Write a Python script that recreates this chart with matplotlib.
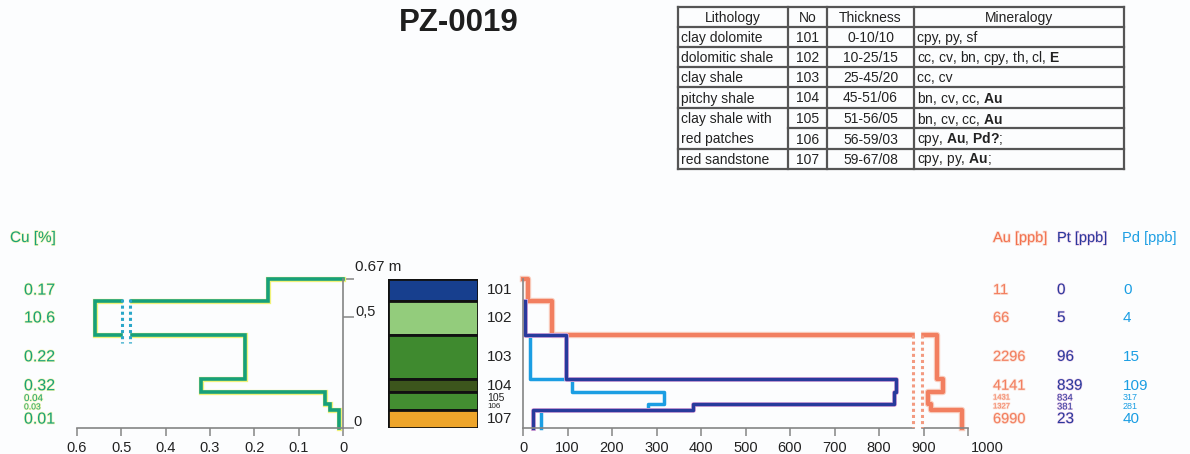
import matplotlib
matplotlib.use('Agg')
import matplotlib.pyplot as plt
import matplotlib.patheffects as pe
from matplotlib.transforms import blended_transform_factory
from matplotlib.lines import Line2D

plt.rcParams['font.family'] = ['Liberation Sans', 'DejaVu Sans']
plt.rcParams['mathtext.fontset'] = 'custom'
plt.rcParams['mathtext.rm'] = 'Liberation Sans'
plt.rcParams['mathtext.bf'] = 'Liberation Sans:bold'

# --- data -------------------------------------------------------------
# layers, depth below top of profile in cm (profile is 0.67 m thick)
layer_no = ['101', '102', '103', '104', '105', '106', '107']
layer_top = [0, 10, 25, 45, 51, 56, 59]
layer_base = [10, 25, 45, 51, 56, 59, 67]

# lithology column (105 + 106 drawn as one box)
col_top = [0, 10, 25, 45, 51, 59]
col_base = [10, 25, 45, 51, 59, 67]
col_colors = ['#173f8e', '#93cc7c', '#3f8a2f', '#3c551c', '#438e31', '#eea52b']

# Cu [%]: printed values and plotted values (10.6 is on a broken axis)
cu_labels = ['0.17', '10.6', '0.22', '0.32', '0.04', '0.03', '0.01']
cu_plot = [0.17, 0.56, 0.22, 0.32, 0.04, 0.03, 0.01]

# Au, Pt, Pd [ppb]; Au > 850 plotted on a compressed (broken) scale
au_labels = ['11', '66', '2296', '4141', '1431', '1327', '6990']
au_plot = [11, 66, 930, 944, 910, 917, 987]
pt_vals = [0, 5, 96, 839, 834, 381, 23]
pd_vals = [0, 4, 15, 109, 317, 281, 40]

# table
tab_header = ['Lithology', 'No', 'Thickness', 'Mineralogy']
tab_lith = ['clay dolomite', 'dolomitic shale', 'clay shale', 'pitchy shale',
            'clay shale with', 'red patches', 'red sandstone']
tab_thick = ['0-10/10', '10-25/15', '25-45/20', '45-51/06', '51-56/05', '56-59/03', '59-67/08']
tab_min = ['cpy, py, sf',
           r'cc, cv, bn, cpy, th, cl, $\mathbf{E}$',
           'cc, cv',
           r'bn, cv, cc, $\mathbf{Au}$',
           r'bn, cv, cc, $\mathbf{Au}$',
           r'cpy, $\mathbf{Au}$, $\mathbf{Pd?}$;',
           r'cpy, py, $\mathbf{Au}$;']

# --- colours ----------------------------------------------------------
bg = '#fcfdfe'
c_cu = '#17a07a'
c_au = '#f1714f'
c_pt = '#283a9c'
c_pd = '#1b9ee3'
c_axis = '#858585'


def step_xy(vals, tops, bases, start=None):
    xs, ys = [], []
    if start is not None:
        xs.append(start)
        ys.append(tops[0])
    for v, t, b in zip(vals, tops, bases):
        xs += [v, v]
        ys += [t, b]
    return xs, ys


W, H = 1190, 454
fig = plt.figure(figsize=(W / 100, H / 100), dpi=100, facecolor=bg)

# overlay in pixel units for text and table
ov = fig.add_axes([0, 0, 1, 1])
ov.set_xlim(0, W)
ov.set_ylim(H, 0)
ov.axis('off')

y0, y1 = 279, 428
bot = 1 - y1 / H
hgt = (y1 - y0) / H


def style_axis(ax):
    ax.set_facecolor('none')
    for s in ax.spines.values():
        s.set_color(c_axis)
        s.set_linewidth(1.2)
    ax.tick_params(colors=c_axis, labelcolor='#222222', labelsize=10.5,
                   length=6, width=1.1, pad=3)


# ---- Cu profile ------------------------------------------------------
ax_cu = fig.add_axes([77 / W, bot, (343 - 77) / W, hgt])
style_axis(ax_cu)
ax_cu.set_xlim(0.6, 0)
ax_cu.set_ylim(67, 0)
ax_cu.spines['left'].set_visible(False)
ax_cu.spines['top'].set_visible(False)
ax_cu.set_xticks([0.6, 0.5, 0.4, 0.3, 0.2, 0.1, 0])
ax_cu.set_xticklabels(['0.6', '0.5', '0.4', '0.3', '0.2', '0.1', '0'])
ax_cu.yaxis.tick_right()
ax_cu.set_yticks([0, 17, 67])
ax_cu.set_yticklabels([])
ax_cu.tick_params(axis='y', length=8)

xs, ys = step_xy(cu_plot, layer_top, layer_base, start=0)
ax_cu.plot(xs, ys, color=c_cu, lw=2.6, solid_joinstyle='miter', clip_on=False,
           path_effects=[pe.Stroke(linewidth=3.8, foreground='#f0f27a'), pe.Normal()])
# axis break on the 10.6 % step
ax_cu.fill_betweenx([8, 30], 0.483, 0.497, color=bg, zorder=3)
for xb in (0.499, 0.481):
    ax_cu.plot([xb, xb], [9, 29], ls=(0, (1, 1)), color='#2aa7c9', lw=2.2, zorder=4)

# ---- lithology column ------------------------------------------------
ax_li = fig.add_axes([388 / W, bot, 90 / W, hgt])
ax_li.set_xlim(0, 1)
ax_li.set_ylim(67, 0)
ax_li.axis('off')
ax_li.barh(col_top, 1, height=[b - t for t, b in zip(col_top, col_base)],
           align='edge', color=col_colors, edgecolor='#111111', linewidth=2)

# ---- Au / Pt / Pd profile -------------------------------------------
ax_pm = fig.add_axes([523 / W, bot, (968 - 523) / W, hgt])
style_axis(ax_pm)
ax_pm.set_xlim(0, 1000)
ax_pm.set_ylim(67, 0)
ax_pm.spines['right'].set_visible(False)
ax_pm.spines['top'].set_visible(False)
ax_pm.set_yticks([])
ax_pm.set_xticks(range(0, 1001, 100))
ax_pm.set_xticklabels([str(v) for v in range(0, 901, 100)] + [''])
ax_pm.annotate('1000', xy=(1000, 0), xycoords=('data', 'axes fraction'),
               xytext=(14, -9.5), textcoords='offset points', ha='center', va='top',
               fontsize=10.5, color='#222222')

xs, ys = step_xy(au_plot, layer_top, layer_base, start=0)
ax_pm.plot(xs, ys, color=c_au, lw=3, alpha=0.85, clip_on=False,
           path_effects=[pe.Stroke(linewidth=4.6, foreground='#f9cfc0'), pe.Normal()])
xs, ys = step_xy(pd_vals[1:], layer_top[1:], layer_base[1:])
ax_pm.plot(xs, ys, color=c_pd, lw=2.5, clip_on=False)
xs, ys = step_xy(pt_vals[1:], layer_top[1:], layer_base[1:])
ax_pm.plot(xs, ys, color=c_pt, lw=2.5, clip_on=False,
           path_effects=[pe.Stroke(linewidth=3.6, foreground='#eab4e0'), pe.Normal()])
# axis break for Au
ax_pm.fill_betweenx([22, 67], 881, 893, color=bg, zorder=3)
for xb in (877, 897):
    ax_pm.plot([xb, xb], [25, 67], ls=(0, (1, 1)), color='#f39a80', lw=2.2, zorder=4)

# ---- labels ----------------------------------------------------------
tr = blended_transform_factory(ov.transData, ax_cu.transData)
mid = [(t + b) / 2 for t, b in zip(layer_top, layer_base)]
big = [True, True, True, True, False, False, True]
halo_y = [pe.withStroke(linewidth=1.0, foreground='#f4f6b0')]
halo_p = [pe.withStroke(linewidth=0.9, foreground='#f0cdea')]
halo_a = [pe.withStroke(linewidth=1.2, foreground='#fbdcd0')]

ov.text(10, 238, 'Cu [%]', fontsize=11, color=c_cu, va='center', path_effects=halo_y)
ov.text(993, 238, 'Au [ppb]', fontsize=10.5, color=c_au, va='center', path_effects=halo_a)
ov.text(1057, 238, 'Pt [ppb]', fontsize=10.5, color=c_pt, va='center', path_effects=halo_p)
ov.text(1122, 238, 'Pd [ppb]', fontsize=10.5, color=c_pd, va='center')

small_sizes = {4: 7, 5: 6.2}
for i, m in enumerate(mid):
    fs = 11.5 if big[i] else small_sizes[i]
    ov.text(24, m, cu_labels[i], transform=tr, fontsize=fs, color=c_cu, va='center',
            path_effects=halo_y)
    ov.text(487, m, layer_no[i], transform=tr, va='center', color='#222222',
            fontsize=11 if big[i] else (7.5 if i == 4 else 5.8))
    afs = 10.5 if big[i] else 5.5
    ov.text(993, m, au_labels[i], transform=tr, fontsize=afs, color=c_au, va='center',
            alpha=0.85, path_effects=halo_a)
    ov.text(1057, m, str(pt_vals[i]), transform=tr, color=c_pt, va='center',
            fontsize=11 if big[i] else 6.8, path_effects=halo_p)
    ov.text(1123, m, str(pd_vals[i]), transform=tr, color=c_pd, va='center',
            fontsize=11 if big[i] else 6.5)

# height scale labels
ov.text(355, 267, '0.67 m', fontsize=11, color='#222222', va='center')
ov.text(355, 312, '0,5', fontsize=10.5, color='#222222', va='center')
ov.text(353, 422, '0', fontsize=10.5, color='#222222', va='center')

# title
ov.text(459, 23, 'PZ-0019', fontsize=22.5, fontweight='bold', color='#1e1e1e',
        ha='center', va='center')

# ---- table -----------------------------------------------------------
cx = [678, 788, 827, 914, 1124]
ry = [7, 27, 47, 67, 87, 108, 128, 149, 169]
lc = '#555555'
for x in cx:
    ov.add_line(Line2D([x, x], [ry[0], ry[-1]], color=lc, lw=1.6))
for k, y in enumerate(ry):
    xa = cx[1] if k == 6 else cx[0]
    ov.add_line(Line2D([xa, cx[-1]], [y, y], color=lc, lw=1.6))

fs_t = 10
for j, h in enumerate(tab_header):
    ov.text((cx[j] + cx[j + 1]) / 2, (ry[0] + ry[1]) / 2 + 1, h, ha='center',
            va='center', fontsize=fs_t, color='#222222')
for i in range(len(layer_no)):
    yc = (ry[i + 1] + ry[i + 2]) / 2 + 1
    ov.text(cx[0] + 3, yc, tab_lith[i], va='center', fontsize=fs_t, color='#222222')
    ov.text((cx[1] + cx[2]) / 2, yc, layer_no[i], ha='center', va='center',
            fontsize=fs_t, color='#222222')
    ov.text((cx[2] + cx[3]) / 2, yc, tab_thick[i], ha='center', va='center',
            fontsize=fs_t, color='#222222')
    ov.text(cx[3] + 3, yc, tab_min[i], va='center', fontsize=fs_t, color='#222222')

fig.savefig('out.png', dpi=100, facecolor=bg)
